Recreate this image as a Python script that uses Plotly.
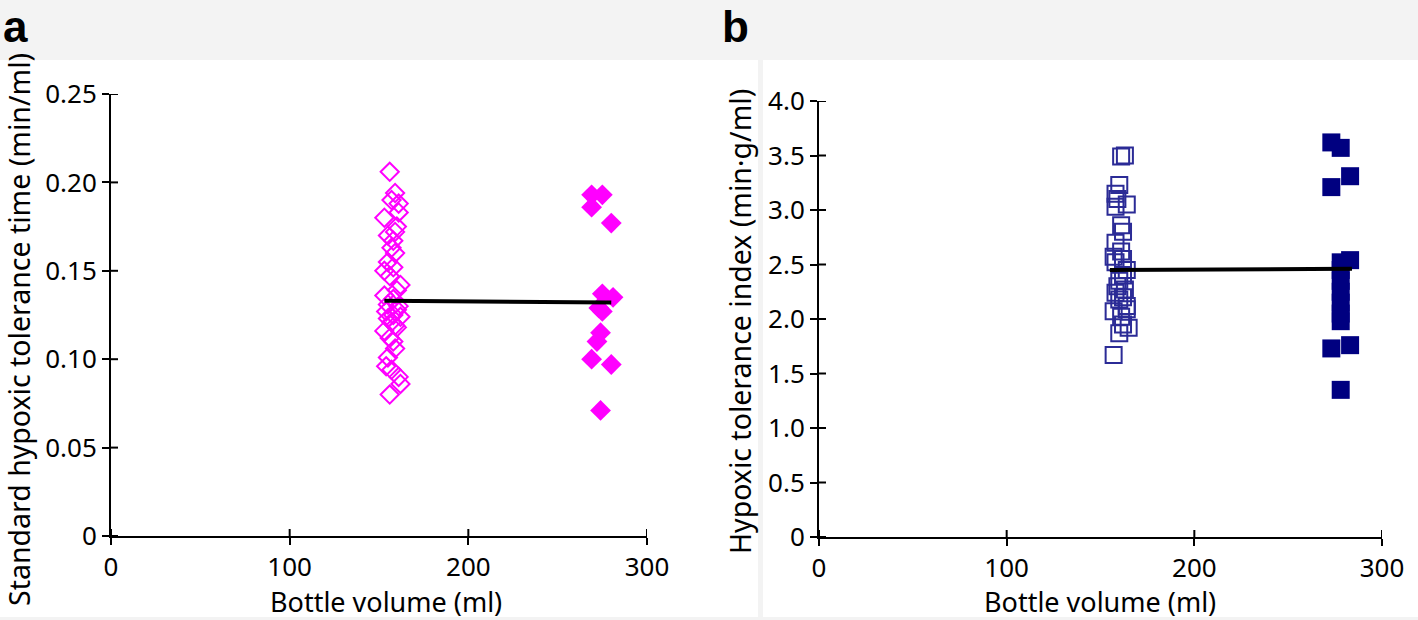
import plotly.graph_objects as go

W, H = 1418, 620

# ---------------- data ----------------
a_open_x = [156, 159, 157, 161, 161, 153, 160, 159, 155, 158, 157, 159, 155, 158, 153, 156,
            162, 160, 153, 158, 155, 160, 154, 162, 157, 160, 153, 156, 158, 159, 155, 154,
            157, 161, 162, 156, 158, 161, 155, 159]
a_open_y = [0.206, 0.194, 0.190, 0.188, 0.183, 0.180, 0.175, 0.172, 0.170, 0.167, 0.163, 0.160,
            0.155, 0.152, 0.150, 0.147, 0.142, 0.139, 0.136, 0.134, 0.131, 0.128, 0.127, 0.124,
            0.121, 0.118, 0.116, 0.112, 0.110, 0.106, 0.101, 0.096, 0.094, 0.090, 0.086, 0.080,
            0.125, 0.130, 0.123, 0.119]
a_fill_x = [269, 275, 269, 280, 275, 281, 273, 275, 274, 272, 269, 280, 274]
a_fill_y = [0.193, 0.193, 0.186, 0.177, 0.137, 0.135, 0.129, 0.127, 0.115, 0.110, 0.100, 0.097, 0.071]
a_fit_x = [153, 280]
a_fit_y = [0.133, 0.132]

b_open_x = [163, 161, 160, 158, 159, 164, 158, 161, 162, 158, 161, 157, 158, 162, 164, 162,
            160, 159, 163, 158, 162, 160, 164, 157, 164, 161, 165, 160, 162, 157]
b_open_y = [3.50, 3.49, 3.23, 3.15, 3.10, 3.05, 3.03, 2.86, 2.80, 2.70, 2.62, 2.57, 2.52, 2.55,
            2.45, 2.40, 2.35, 2.30, 2.27, 2.24, 2.20, 2.18, 2.12, 2.07, 2.09, 2.02, 1.92, 1.87,
            1.95, 1.67]
b_fill_x = [273, 278, 283, 273, 278, 283, 278, 278, 278, 278, 278, 278, 273, 283, 278]
b_fill_y = [3.62, 3.57, 3.31, 3.21, 2.52, 2.54, 2.45, 2.35, 2.25, 2.15, 2.05, 1.98, 1.73, 1.76, 1.35]
b_fit_x = [155, 284]
b_fit_y = [2.45, 2.46]

a_yticks = [0, 0.05, 0.10, 0.15, 0.20, 0.25]
a_yticklabels = ["0", "0.05", "0.10", "0.15", "0.20", "0.25"]
b_yticks = [0, 0.5, 1.0, 1.5, 2.0, 2.5, 3.0, 3.5, 4.0]
b_yticklabels = ["0", "0.5", "1.0", "1.5", "2.0", "2.5", "3.0", "3.5", "4.0"]
xticks = [0, 100, 200, 300]

a_ytitle = "Standard hypoxic tolerance time (min/ml)"
b_ytitle = "Hypoxic tolerance index (min·g/ml)"
xtitle = "Bottle volume (ml)"

# ---------------- style ----------------
FONT = "Noto Sans"
MAG = "#ff00ff"
NAVY = "#000080"
NAVY_OPEN = "#2b2b96"

fig = go.Figure()

fig.add_trace(go.Scatter(x=a_open_x, y=a_open_y, mode="markers", xaxis="x", yaxis="y",
                         marker=dict(symbol="diamond-open", size=14, color=MAG, line=dict(width=2, color=MAG))))
fig.add_trace(go.Scatter(x=a_fill_x, y=a_fill_y, mode="markers", xaxis="x", yaxis="y",
                         marker=dict(symbol="diamond", size=16, color=MAG, line=dict(width=0))))
fig.add_trace(go.Scatter(x=a_fit_x, y=a_fit_y, mode="lines", xaxis="x", yaxis="y",
                         line=dict(color="black", width=4)))

fig.add_trace(go.Scatter(x=b_open_x, y=b_open_y, mode="markers", xaxis="x2", yaxis="y2",
                         marker=dict(symbol="square-open", size=16, color=NAVY_OPEN, line=dict(width=2, color=NAVY_OPEN))))
fig.add_trace(go.Scatter(x=b_fill_x, y=b_fill_y, mode="markers", xaxis="x2", yaxis="y2",
                         marker=dict(symbol="square", size=18, color=NAVY, line=dict(width=0))))
fig.add_trace(go.Scatter(x=b_fit_x, y=b_fit_y, mode="lines", xaxis="x2", yaxis="y2",
                         line=dict(color="black", width=4)))

ax_dom_a = [111 / W, 647 / W]
ay_dom_a = [(H - 536) / H, (H - 94) / H]
ax_dom_b = [819 / W, 1382 / W]
ay_dom_b = [(H - 537) / H, (H - 101) / H]

TICKLEN = 7
tickfont = dict(family=FONT, size=26, color="black")
common = dict(showgrid=False, zeroline=False, showline=True, linecolor="black", linewidth=2,
              ticks="outside", ticklen=TICKLEN, tickwidth=2, tickcolor="black", tickfont=tickfont,
              fixedrange=True, automargin=False)

fig.update_layout(
    width=W, height=H,
    margin=dict(l=0, r=0, t=0, b=0, autoexpand=False),
    paper_bgcolor="#f3f3f3",
    plot_bgcolor="rgba(0,0,0,0)",
    showlegend=False,
    font=dict(family=FONT, color="black"),
    xaxis=dict(domain=ax_dom_a, range=[0, 300], tickvals=xticks, anchor="y", **common),
    yaxis=dict(domain=ay_dom_a, range=[0, 0.25], tickvals=a_yticks, ticktext=a_yticklabels,
               anchor="x", **common),
    xaxis2=dict(domain=ax_dom_b, range=[0, 300], tickvals=xticks, anchor="y2", **common),
    yaxis2=dict(domain=ay_dom_b, range=[0, 4.0], tickvals=b_yticks, ticktext=b_yticklabels,
                anchor="x2", **common),
)

# white panels
fig.add_shape(type="rect", xref="paper", yref="paper", x0=0, x1=758 / W,
              y0=(H - 617) / H, y1=(H - 60) / H, fillcolor="white", line=dict(width=0), layer="below")
fig.add_shape(type="rect", xref="paper", yref="paper", x0=763 / W, x1=1,
              y0=(H - 617) / H, y1=(H - 60) / H, fillcolor="white", line=dict(width=0), layer="below")

# inner half of the crossing tick marks (positions come from the tick arrays, via axis refs)
def inner_ticks(xaxis, yaxis, xdom, ydom, yvals, xvals):
    wpx = (xdom[1] - xdom[0]) * W
    hpx = (ydom[1] - ydom[0]) * H
    for v in yvals:
        fig.add_shape(type="line", xref=f"{xaxis} domain", yref=yaxis,
                      x0=0, x1=TICKLEN / wpx, y0=v, y1=v,
                      line=dict(color="black", width=2))
    for v in xvals:
        fig.add_shape(type="line", xref=xaxis, yref=f"{yaxis} domain",
                      x0=v, x1=v, y0=0, y1=TICKLEN / hpx,
                      line=dict(color="black", width=2))

inner_ticks("x", "y", ax_dom_a, ay_dom_a, a_yticks, xticks)
inner_ticks("x2", "y2", ax_dom_b, ay_dom_b, b_yticks, xticks)

ann = []
ann.append(dict(text="<b>a</b>", x=1 / W, y=1, xref="paper", yref="paper",
                xanchor="left", yanchor="top", showarrow=False,
                font=dict(family="Liberation Sans", size=44, color="black")))
ann.append(dict(text="<b>b</b>", x=720 / W, y=1, xref="paper", yref="paper",
                xanchor="left", yanchor="top", showarrow=False,
                font=dict(family="Liberation Sans", size=44, color="black")))
ann.append(dict(text=a_ytitle, x=19 / W, y=(H - 330) / H, xref="paper", yref="paper",
                textangle=-90, showarrow=False, xanchor="center", yanchor="middle",
                font=dict(family=FONT, size=28.5, color="black")))
ann.append(dict(text=b_ytitle, x=740 / W, y=(H - 322) / H, xref="paper", yref="paper",
                textangle=-90, showarrow=False, xanchor="center", yanchor="middle",
                font=dict(family=FONT, size=28.5, color="black")))
ann.append(dict(text=xtitle, x=386 / W, y=(H - 601) / H, xref="paper", yref="paper",
                showarrow=False, xanchor="center", yanchor="middle",
                font=dict(family=FONT, size=27, color="black")))
ann.append(dict(text=xtitle, x=1100 / W, y=(H - 601) / H, xref="paper", yref="paper",
                showarrow=False, xanchor="center", yanchor="middle",
                font=dict(family=FONT, size=27, color="black")))
fig.update_layout(annotations=ann)

fig.write_html("out.html", config={"displayModeBar": False},
               post_script="document.body.style.margin='0';document.body.style.overflow='hidden';")
